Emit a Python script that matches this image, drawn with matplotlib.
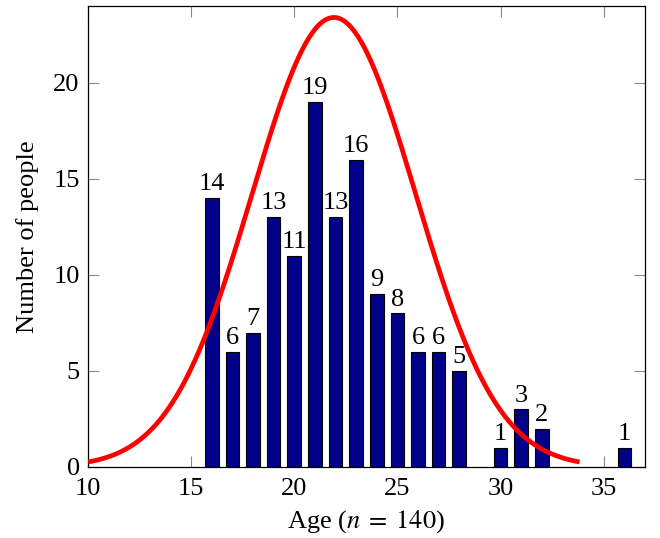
import numpy as np
import matplotlib
matplotlib.use("Agg")
import matplotlib.pyplot as plt

# age histogram (n = 140)
ages = [16, 17, 18, 19, 20, 21, 22, 23, 24, 25, 26, 27, 28, 30, 31, 32, 36]
counts = [14, 6, 7, 13, 11, 19, 13, 16, 9, 8, 6, 6, 5, 1, 3, 2, 1]

# normal curve drawn over the bars
curve_mean = 21.92
curve_sd = 3.97
curve_peak = 23.4

plt.rcParams['font.family'] = ['Liberation Serif', 'DejaVu Serif']
plt.rcParams['mathtext.fontset'] = 'stix'
plt.rcParams['font.size'] = 19

fig = plt.figure(figsize=(6.6, 5.38), dpi=100)
ax = fig.add_axes([0.1333, 0.132, 0.8439, 0.857])

ax.bar(ages, counts, width=0.66, color='#000088', edgecolor='black',
       linewidth=0.8, zorder=2)
for x, c in zip(ages, counts):
    ax.annotate(str(c), (x, c), xytext=(0, 2), textcoords='offset points',
                ha='center', va='bottom', fontsize=19)

xs = np.linspace(curve_mean - 3 * curve_sd, curve_mean + 3 * curve_sd, 300)
ys = curve_peak * np.exp(-(xs - curve_mean) ** 2 / (2 * curve_sd ** 2))
ax.plot(xs, ys, color='red', linewidth=3.4, zorder=3, solid_capstyle='butt')

ax.set_xlim(10, 37)
ax.set_ylim(0, 24)
ax.set_xticks([10, 15, 20, 25, 30, 35])
ax.set_yticks([0, 5, 10, 15, 20])
ax.tick_params(direction='in', length=8, width=0.8, color='#888888',
               top=True, right=True, labelsize=19)
ax.tick_params(axis='x', pad=8)
ax.tick_params(axis='y', pad=6)
for s in ax.spines.values():
    s.set_linewidth(0.9)

ax.set_xlabel(r'Age ($n\;=\;140$)', fontsize=19, labelpad=6)
ax.set_ylabel('Number of people', fontsize=19, labelpad=10)

fig.savefig('out.png', dpi=100)
